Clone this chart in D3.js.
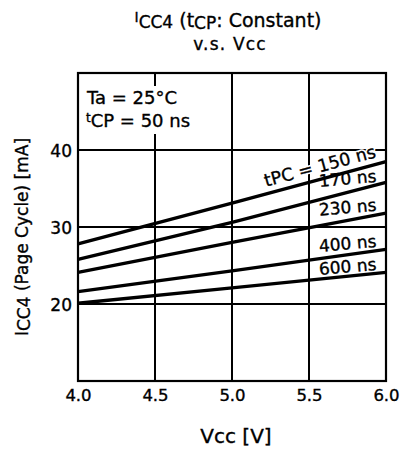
<!DOCTYPE html>
<html>
<head>
<meta charset="utf-8">
<script src="https://cdn.jsdelivr.net/npm/d3@7"></script>
<style>
  html, body { margin: 0; padding: 0; background: #fff; }
  svg { display: block; font-family: "DejaVu Sans", sans-serif; }
  svg text.ink { stroke: #000; stroke-width: 0.35px; }
</style>
</head>
<body>
<svg id="chart" width="405" height="451"></svg>
<script>
// Supply voltage points (V) where the current was read
const vccPoints = [4.0, 5.0, 6.0];
// Page-cycle time of each curve (ns)
const tpcLabels = ["150", "170", "230", "400", "600"];
// ICC4 (mA) at each Vcc point, one row per tPC
const icc150 = [27.8, 33.1, 38.5];
const icc170 = [25.8, 30.6, 35.8];
const icc230 = [24.1, 28.0, 31.8];
const icc400 = [21.6, 24.3, 27.1];
const icc600 = [20.1, 22.1, 24.1];
const xTicks = [4.0, 4.5, 5.0, 5.5, 6.0];
const yTicks = [20, 30, 40];

const seriesList = [icc150, icc170, icc230, icc400, icc600].map((vals, i) => ({
  tpc: tpcLabels[i],
  points: vals.map((v, j) => ({ vcc: vccPoints[j], icc: v }))
}));

const svg = d3.select("#chart");
const plotL = 78, plotR = 386, plotT = 73, plotB = 381;

const x = d3.scaleLinear().domain([4, 6]).range([plotL, plotR]);
const y = d3.scaleLinear().domain([10, 50]).range([plotB, plotT]);

// Grid lines
const grid = svg.append("g").attr("stroke", "#000").attr("stroke-width", 2);
grid.selectAll("line.v").data(xTicks.slice(1, -1)).join("line").attr("class", "v")
  .attr("x1", d => x(d)).attr("x2", d => x(d))
  .attr("y1", plotT).attr("y2", plotB);
grid.selectAll("line.h").data(yTicks).join("line").attr("class", "h")
  .attr("x1", plotL).attr("x2", plotR)
  .attr("y1", d => y(d)).attr("y2", d => y(d));

// Condition note in the upper-left cell
svg.append("rect").attr("x", 81).attr("y", 86).attr("width", 102).attr("height", 48).attr("fill", "#fff");
const note = svg.append("g").attr("font-size", 18).attr("fill", "#000");
note.append("text").attr("class", "ink").attr("x", 87).attr("y", 104).text("Ta = 25°C");
const t2 = note.append("text").attr("class", "ink").attr("x", 86).attr("y", 127);
t2.append("tspan").attr("font-size", 12).attr("dy", -5).text("t");
t2.append("tspan").attr("dy", 5).text("CP = 50 ns");

// Curve labels: a white halo copy hides the grid, then the ink copy on top
const last = s => s.points[s.points.length - 1].icc;
const labels = [
  { text: "tPC = " + seriesList[0].tpc + " ns", v: last(seriesList[0]), off: 6, rot: -15, size: 17.5 },
  ...seriesList.slice(1).map((s, i) => ({
    text: s.tpc + " ns", v: last(s), off: i === 0 ? 2 : 4, rot: -5, size: 17
  }))
].reverse();

const labelG = svg.append("g").attr("text-anchor", "end");
labels.forEach(l => {
  const tf = `translate(${x(5.94)},${y(l.v - 0.2) - l.off}) rotate(${l.rot})`;
  labelG.append("text").attr("transform", tf).attr("font-size", l.size)
    .attr("fill", "#fff").attr("stroke", "#fff").attr("stroke-width", 3.5)
    .attr("stroke-linejoin", "round").text(l.text);
});
labels.forEach(l => {
  const tf = `translate(${x(5.94)},${y(l.v - 0.2) - l.off}) rotate(${l.rot})`;
  labelG.append("text").attr("class", "ink").attr("transform", tf).attr("font-size", l.size)
    .attr("fill", "#000").text(l.text);
});

// Curves
const line = d3.line().x(d => x(d.vcc)).y(d => y(d.icc));
svg.append("g").selectAll("path").data(seriesList).join("path")
  .attr("d", d => line(d.points))
  .attr("fill", "none").attr("stroke", "#000").attr("stroke-width", 3.4);

// Plot frame
svg.append("rect").attr("x", plotL).attr("y", plotT)
  .attr("width", plotR - plotL).attr("height", plotB - plotT)
  .attr("fill", "none").attr("stroke", "#000").attr("stroke-width", 2.2);

// Axes tick labels
const xAxis = d3.axisBottom(x).tickValues(xTicks).tickFormat(d3.format(".1f")).tickSize(0).tickPadding(0);
const gx = svg.append("g").attr("transform", `translate(0,${plotB})`).call(xAxis);
gx.select(".domain").remove();
gx.selectAll("text").attr("class", "ink").attr("font-family", "DejaVu Sans").attr("font-size", 16.5)
  .attr("fill", "#000").attr("dy", null).attr("y", 20);

const yAxis = d3.axisLeft(y).tickValues(yTicks).tickSize(0).tickPadding(6);
const gy = svg.append("g").attr("transform", `translate(${plotL},0)`).call(yAxis);
gy.select(".domain").remove();
gy.selectAll("text").attr("class", "ink").attr("font-family", "DejaVu Sans").attr("font-size", 17)
  .attr("fill", "#000").attr("dy", "0.36em");

// Axis titles
svg.append("text").attr("class", "ink").attr("x", 236).attr("y", 443).attr("text-anchor", "middle")
  .attr("font-size", 20).text("Vcc [V]");

const yt = svg.append("text").attr("class", "ink").attr("transform", "translate(28,237) rotate(-90)")
  .attr("text-anchor", "middle").attr("font-size", 17);
yt.append("tspan").text("I");
yt.append("tspan").attr("dy", 2).text("CC4");
yt.append("tspan").attr("dy", -2).text(" (Page Cycle) [mA]");

// Title
const title = svg.append("text").attr("class", "ink").attr("x", 228).attr("y", 27)
  .attr("text-anchor", "middle").attr("font-size", 19);
title.append("tspan").attr("font-size", 14).attr("dy", -5).text("I");
title.append("tspan").attr("font-size", 17).attr("dy", 6).text("CC4");
title.append("tspan").attr("dy", -1).text(" (t");
title.append("tspan").attr("font-size", 17).attr("dy", 2).text("CP");
title.append("tspan").attr("dy", -2).text(": Constant)");
svg.append("text").attr("class", "ink").attr("x", 230).attr("y", 50).attr("text-anchor", "middle")
  .attr("font-size", 17).attr("letter-spacing", 1.2).text("v.s. Vcc");
</script>
</body>
</html>
